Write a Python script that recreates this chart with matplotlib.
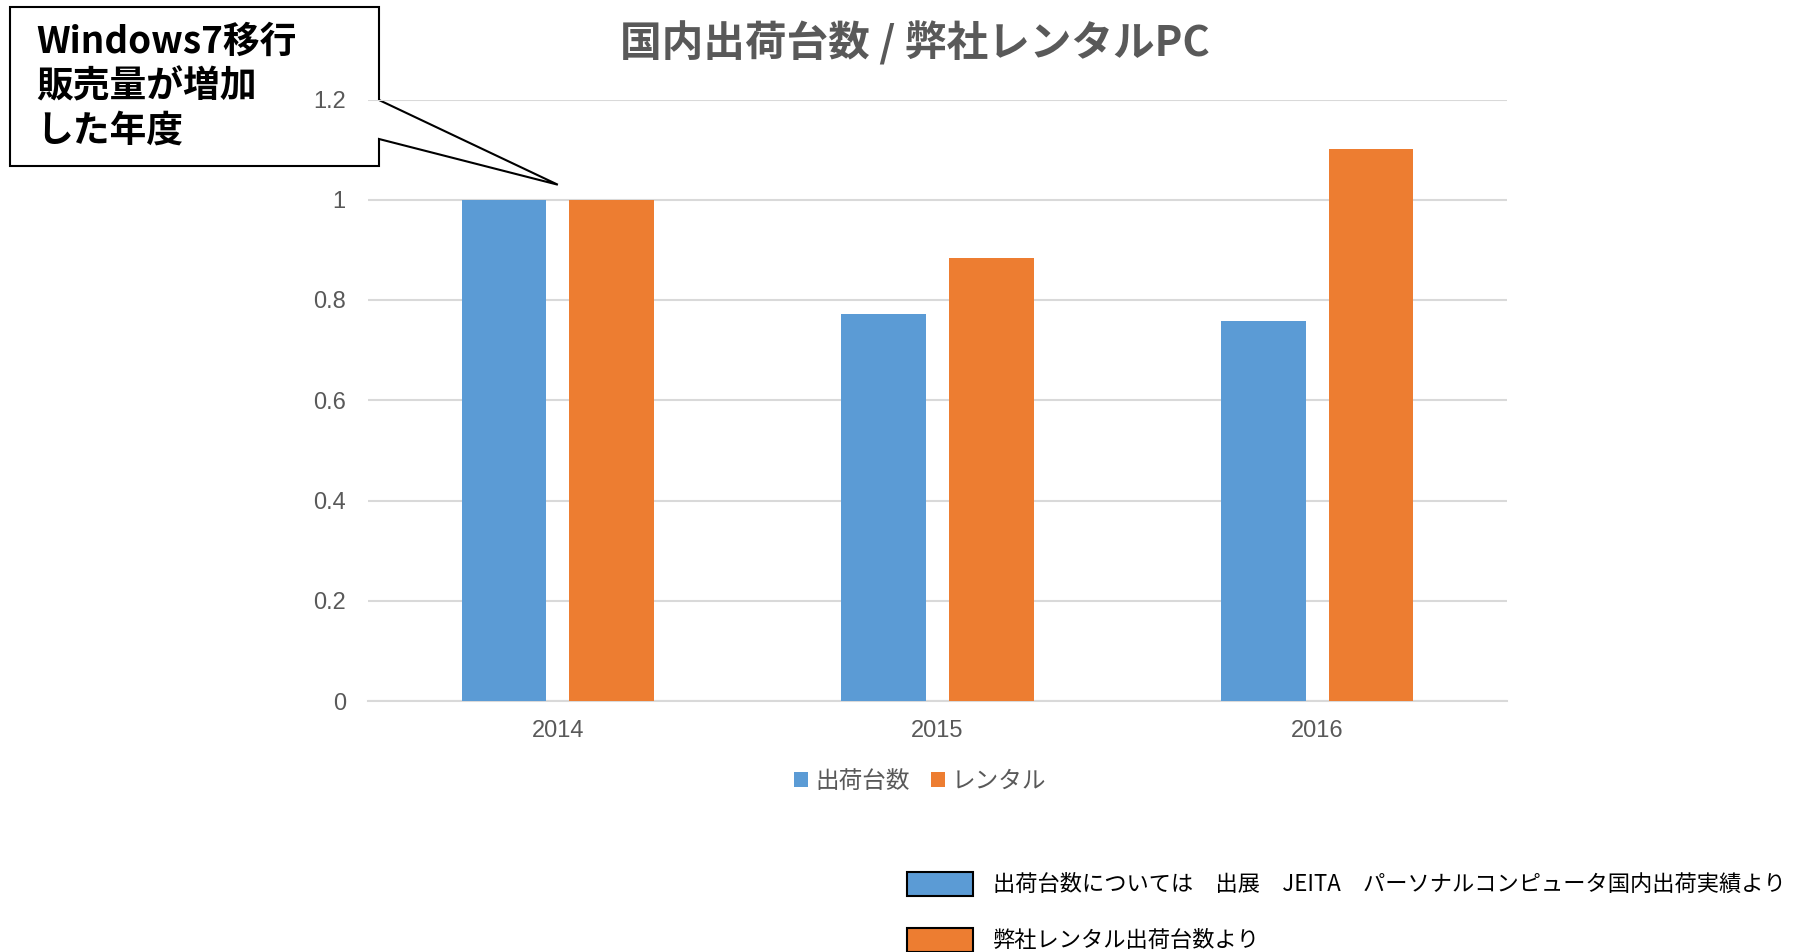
import numpy as np
import matplotlib
matplotlib.use("Agg")
import matplotlib.pyplot as plt
from matplotlib.patches import Polygon, Rectangle

plt.rcParams['font.family'] = ['Noto Sans CJK JP', 'DejaVu Sans']

years = ["2014", "2015", "2016"]
shipments = [1.0, 0.772, 0.759]
rental = [1.0, 0.884, 1.102]
series_names = ["出荷台数", "レンタル"]
yticks = [0, 0.2, 0.4, 0.6, 0.8, 1, 1.2]
ytick_labels = ["0", "0.2", "0.4", "0.6", "0.8", "1", "1.2"]
title = "国内出荷台数 / 弊社レンタルPC"
callout_text = "Windows7移行\n販売量が増加\nした年度"
note_lines = ["出荷台数については\u3000出展\u3000JEITA\u3000パーソナルコンピュータ国内出荷実績より",
              "弊社レンタル出荷台数より"]

blue = "#5B9BD5"
orange = "#ED7D31"
gray = "#595959"

W, H = 1793, 952
fig = plt.figure(figsize=(W / 100, H / 100), dpi=100)
ax = fig.add_axes([368 / W, 1 - 701 / H, (1507 - 368) / W, (701 - 99.5) / H], zorder=2)
ax.patch.set_visible(False)

x = np.arange(len(years))
bw = 0.223
ax.bar(x - 0.142, shipments, bw, color=blue, label=series_names[0], zorder=3)
ax.bar(x + 0.142, rental, bw, color=orange, label=series_names[1], zorder=3)

ax.set_xlim(-0.5, 2.5)
ax.set_ylim(0, 1.2)
ax.set_yticks(yticks)
ax.set_yticklabels(ytick_labels)
ax.set_xticks(x)
ax.set_xticklabels(years)
ax.tick_params(length=0, labelsize=17, labelcolor=gray)
for lab in ax.get_xticklabels() + ax.get_yticklabels():
    lab.set_family(['Liberation Sans', 'DejaVu Sans'])
ax.tick_params(axis='y', pad=16)
ax.tick_params(axis='x', pad=14)
ax.grid(axis='y', color="#D9D9D9", linewidth=1.5, zorder=0)
for s in ["top", "right", "left"]:
    ax.spines[s].set_visible(False)
ax.spines["bottom"].set_color("#D9D9D9")
ax.spines["bottom"].set_linewidth(1.5)

leg = ax.legend(loc="center", bbox_to_anchor=((920 - 368) / (1507 - 368), -0.133),
                ncol=2, frameon=False, fontsize=17, handlelength=0.6, handleheight=0.6,
                handletextpad=0.3, columnspacing=0.9)
for t in leg.get_texts():
    t.set_color(gray)

fig.text(915 / W, 1 - 43 / H, title, ha="center", va="center", fontsize=30,
         fontweight="bold", color=gray)

# callout box pointing at 2014
tip = ax.transData.transform((0.0, 1.03))
tip = fig.transFigure.inverted().transform(tip)
pts_px = [(10, 7), (379, 7), (379, 100), None, (379, 139), (379, 166), (10, 166)]
verts = []
for p in pts_px:
    if p is None:
        verts.append(tuple(tip))
    else:
        verts.append((p[0] / W, 1 - p[1] / H))
fig.patches.append(Polygon(verts, closed=True, transform=fig.transFigure,
                           facecolor="white", edgecolor="black", linewidth=1.5, zorder=1))
fig.text(36 / W, 1 - 87 / H, callout_text, ha="left", va="center", fontsize=26.5,
         fontweight="bold", color="black", linespacing=1.26, zorder=6)

# bottom notes
note_colors = [blue, orange]
note_y = [884, 940]
for c, yy, txt in zip(note_colors, note_y, note_lines):
    fig.patches.append(Rectangle((907 / W, 1 - (yy + 12) / H), 66 / W, 24 / H,
                                 transform=fig.transFigure, facecolor=c,
                                 edgecolor="black", linewidth=1.5))
    fig.text(993 / W, 1 - yy / H, txt, ha="left", va="center", fontsize=16, color="black")

fig.savefig("out.png", dpi=100)
